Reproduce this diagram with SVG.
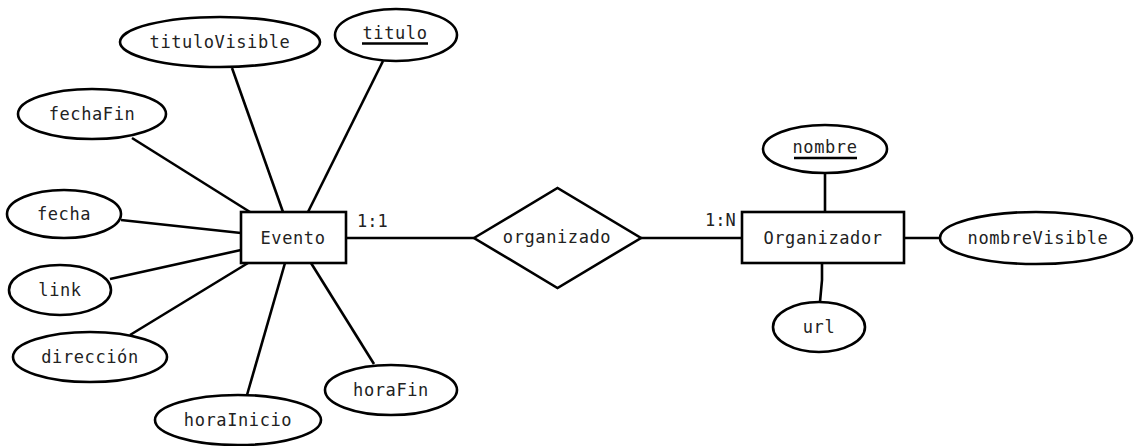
<svg xmlns="http://www.w3.org/2000/svg" width="1134" height="446" viewBox="0 0 1134 446">
  <style>
    .shape { fill: #ffffff; stroke: #000000; stroke-width: 2.6; }
    .link { stroke: #000000; stroke-width: 2.6; fill: none; }
    .label { font-family: "DejaVu Sans Mono", "Liberation Mono", monospace; font-size: 17px; letter-spacing: 0.6px; fill: #222222; text-anchor: middle; }
    .card { font-family: "DejaVu Sans Mono", "Liberation Mono", monospace; font-size: 17px; fill: #222222; }
    .key { stroke: #000000; stroke-width: 2.4; }
  </style>

  <!-- connectors -->
  <g id="connectors">
    <line class="link" x1="232" y1="68" x2="283" y2="212"/>
    <line class="link" x1="383" y1="61" x2="308" y2="212"/>
    <line class="link" x1="132" y1="138" x2="250" y2="212"/>
    <line class="link" x1="121" y1="220" x2="241" y2="233"/>
    <line class="link" x1="110" y1="279" x2="241" y2="250"/>
    <line class="link" x1="130" y1="335" x2="248" y2="263"/>
    <line class="link" x1="247" y1="395" x2="285" y2="263"/>
    <line class="link" x1="374" y1="364" x2="311" y2="263"/>
    <line class="link" x1="346" y1="238" x2="474" y2="238"/>
    <line class="link" x1="641" y1="238" x2="742" y2="238"/>
    <line class="link" x1="825" y1="173" x2="825" y2="212"/>
    <line class="link" x1="904" y1="238" x2="939" y2="238"/>
    <polyline class="link" points="822,263 822,280 820,302"/>
  </g>

  <!-- Evento entity and attributes -->
  <g id="evento">
    <rect class="shape" x="241" y="212" width="105" height="51"/>
    <text class="label" x="293" y="244">Evento</text>
  </g>
  <g id="tituloVisible">
    <ellipse class="shape" cx="220" cy="42" rx="100" ry="25"/>
    <text class="label" x="220" y="48">tituloVisible</text>
  </g>
  <g id="titulo">
    <ellipse class="shape" cx="396" cy="35" rx="61" ry="26"/>
    <text class="label" x="395" y="39">titulo</text>
    <line class="key" x1="362" y1="43.5" x2="428" y2="43.5"/>
  </g>
  <g id="fechaFin">
    <ellipse class="shape" cx="92" cy="114" rx="74" ry="25"/>
    <text class="label" x="92" y="120">fechaFin</text>
  </g>
  <g id="fecha">
    <ellipse class="shape" cx="64" cy="214" rx="57" ry="24"/>
    <text class="label" x="64" y="220">fecha</text>
  </g>
  <g id="link">
    <ellipse class="shape" cx="60" cy="290" rx="51" ry="25"/>
    <text class="label" x="60" y="296">link</text>
  </g>
  <g id="direccion">
    <ellipse class="shape" cx="90" cy="357" rx="77" ry="25"/>
    <text class="label" x="90" y="363">dirección</text>
  </g>
  <g id="horaInicio">
    <ellipse class="shape" cx="238" cy="420" rx="83" ry="25"/>
    <text class="label" x="238" y="426">horaInicio</text>
  </g>
  <g id="horaFin">
    <ellipse class="shape" cx="391" cy="390" rx="66" ry="25"/>
    <text class="label" x="391" y="396">horaFin</text>
  </g>

  <!-- relationship -->
  <g id="organizado">
    <polygon class="shape" points="474,238 557.5,188 641,238 557.5,288"/>
    <text class="label" x="557" y="243">organizado</text>
  </g>
  <text class="card" x="357" y="227">1:1</text>
  <text class="card" x="705" y="226">1:N</text>

  <!-- Organizador entity and attributes -->
  <g id="organizador">
    <rect class="shape" x="742" y="212" width="162" height="51"/>
    <text class="label" x="823" y="244">Organizador</text>
  </g>
  <g id="nombre">
    <ellipse class="shape" cx="825" cy="149" rx="62" ry="24"/>
    <text class="label" x="825" y="153">nombre</text>
    <line class="key" x1="794" y1="158" x2="857" y2="158"/>
  </g>
  <g id="nombreVisible">
    <ellipse class="shape" cx="1036" cy="238" rx="96" ry="26"/>
    <text class="label" x="1038" y="244">nombreVisible</text>
  </g>
  <g id="url">
    <ellipse class="shape" cx="819" cy="327" rx="46" ry="25"/>
    <text class="label" x="819" y="333">url</text>
  </g>
</svg>
